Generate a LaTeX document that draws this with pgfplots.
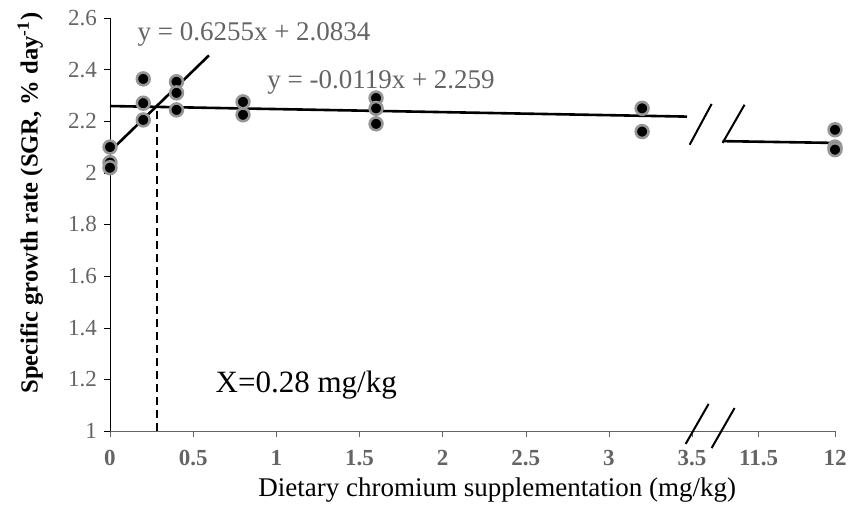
\documentclass[border=0pt]{standalone}
\usepackage{fontspec}
\setmainfont{Liberation Serif}
\usepackage{pgfplots}
\pgfplotsset{compat=1.18}

\definecolor{tickgray}{RGB}{100,100,100}
\definecolor{halo}{RGB}{150,150,150}

\begin{document}
\begin{tikzpicture}
\begin{axis}[
  scale only axis,
  width=362.5pt, height=206.5pt,
  xmin=0, xmax=4.36,
  ymin=1, ymax=2.6,
  ytick={1,1.2,...,2.6},
  xtick={0,0.5,1,1.5,2,2.5,3,3.5,3.9,4.36},
  xticklabels={0,0.5,1,1.5,2,2.5,3,3.5,11.5,12},
  axis x line*=bottom,
  axis y line*=left,
  x axis line style={draw=tickgray, -},
  y axis line style={draw=black, -},
  tick align=outside,
  major tick length=3pt,
  x tick style={draw=tickgray},
  y tick style={draw=black},
  /pgf/number format/assume math mode=true,
  x tick label style={font=\fontsize{11.5}{13}\selectfont\bfseries, text=tickgray, yshift=-3pt},
  y tick label style={font=\fontsize{11.5}{13}\selectfont, text=tickgray},
  xlabel={Dietary chromium supplementation (mg/kg)},
  ylabel={\textbf{Specific growth rate (SGR, \% day\textsuperscript{-1})}},
  xlabel style={font=\fontsize{13.5}{15}\selectfont, at={(axis description cs:0.534,-0.143)}, anchor=center},
  ylabel style={font=\fontsize{12.3}{14}\selectfont, at={(axis description cs:-0.11,0.552)}, anchor=center},
  clip=false,
]
% observations
\addplot[only marks, mark=*, mark size=3.2pt,
  mark options={fill=black, draw=halo, line width=1.3pt}] coordinates {
  (0,2.10) (0,2.04) (0,2.02)
  (0.2,2.364) (0.2,2.27) (0.2,2.205)
  (0.4,2.353) (0.4,2.31) (0.4,2.244)
  (0.8,2.275) (0.8,2.225)
  (1.6,2.29) (1.6,2.25) (1.6,2.19)
  (3.2,2.25) (3.2,2.16)
  (4.36,2.167) (4.36,2.10) (4.36,2.09)
};
% broken-line regression
\addplot[black, line width=1.3pt] coordinates {(0,2.0834) (0.595,2.455)};
\addplot[black, line width=1.3pt] coordinates {(0,2.259) (3.47,2.218)};
\addplot[black, line width=1.3pt] coordinates {(3.684,2.123) (4.36,2.116)};
\addplot[black, line width=1pt, dash pattern=on 4pt off 2.5pt] coordinates {(0.28,1) (0.28,2.255)};
% break marks
\draw[black, line width=1pt] (axis cs:3.486,2.109) -- (axis cs:3.618,2.267);
\draw[black, line width=1pt] (axis cs:3.684,2.116) -- (axis cs:3.816,2.264);
\draw[black, line width=1pt] (axis cs:3.462,0.950) -- (axis cs:3.600,1.105);
\draw[black, line width=1pt] (axis cs:3.618,0.934) -- (axis cs:3.756,1.089);
% annotations
\node[text=tickgray, font=\fontsize{13.5}{15}\selectfont] at (axis cs:0.866,2.535) {y = 0.6255x + 2.0834};
\node[text=tickgray, font=\fontsize{13.5}{15}\selectfont] at (axis cs:1.63,2.349) {y = -0.0119x + 2.259};
\node[font=\fontsize{15.5}{17}\selectfont] at (axis cs:1.18,1.178) {X=0.28 mg/kg};
\path (rel axis cs:0,0) coordinate (sw) (rel axis cs:1,1) coordinate (ne);
\end{axis}
\pgfresetboundingbox
\path[use as bounding box] ([xshift=-55pt,yshift=-42pt]sw) rectangle ([xshift=13pt,yshift=9pt]ne);
\end{tikzpicture}
\end{document}
